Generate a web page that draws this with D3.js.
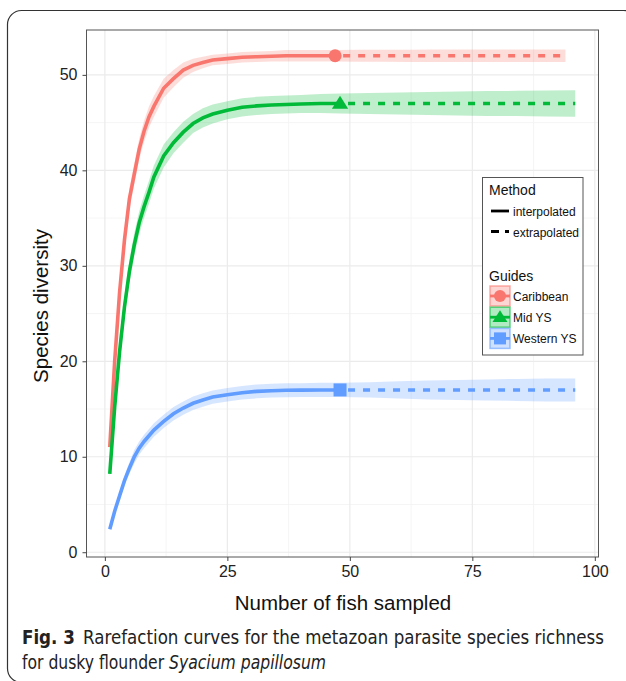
<!DOCTYPE html>
<html>
  <head>
    <meta charset="UTF-8" />
    <title>Rarefaction curves</title>
    <script src="https://d3js.org/d3.v7.min.js"></script>
    <style>
      body { margin: 0; background: #ffffff; }
      svg text { font-family: "Liberation Sans", Arial, sans-serif; }
      .caption { font-family: "DejaVu Sans", sans-serif; font-stretch: condensed; }
    </style>
  </head>
  <body>
    <div id="chart"></div>
    <script>
      // Sample sizes (knots) of the interpolated part
      var mRed = [1,2,3,4,5,6,7,8,9,10,12,14,16,18,20,22,25,28,31,34,37,40,44,47];
      var mGreenBlue = [1,2,3,4,5,6,7,8,9,10,12,14,16,18,20,22,25,28,31,34,37,40,44,48];

      // Caribbean
      var redY  = [11.0,20.0,27.2,32.7,37.0,39.6,42.2,44.1,45.6,46.7,48.6,49.6,50.5,51.0,51.3,51.55,51.7,51.85,51.9,51.95,52.0,52.0,52.0,52.0];
      var redLo = [10.9,19.5,26.4,31.7,35.9,38.5,41.1,43.0,44.5,45.6,47.6,48.7,49.7,50.3,50.7,51.0,51.15,51.3,51.35,51.4,51.4,51.4,51.4,51.4];
      var redHi = [11.1,20.5,28.0,33.7,38.1,40.7,43.3,45.2,46.7,47.8,49.6,50.5,51.3,51.7,51.9,52.1,52.25,52.4,52.45,52.5,52.6,52.6,52.6,52.6];
      var redExtM  = [47,52,57,62,67,72,77,82,87,94];
      var redExtY  = [52,52,52,52,52,52,52,52,52,52];
      var redExtLo = [51.4,51.38,51.37,51.36,51.35,51.35,51.35,51.35,51.35,51.35];
      var redExtHi = [52.6,52.62,52.63,52.64,52.65,52.65,52.65,52.65,52.65,52.65];

      // Mid YS
      var greenY  = [8.2,15.2,21.0,25.7,29.4,32.2,34.5,36.2,37.7,39.3,41.5,42.9,44.0,44.9,45.5,45.9,46.3,46.6,46.75,46.85,46.9,46.95,47.0,47.0];
      var greenLo = [7.9,14.4,19.9,24.5,28.2,31.0,33.3,35.0,36.5,38.1,40.3,41.8,42.9,43.9,44.5,44.9,45.35,45.65,45.8,45.9,45.95,46.0,46.0,45.95];
      var greenHi = [8.5,16.0,22.1,26.9,30.6,33.4,35.7,37.4,38.9,40.5,42.7,44.0,45.1,45.9,46.5,46.9,47.25,47.55,47.7,47.8,47.85,47.9,48.0,48.05];
      var gbExtM    = [48,54,60,66,72,78,84,90,96];
      var greenExtY  = [47,47,47,47,47,47,47,47,47];
      var greenExtLo = [45.95,45.9,45.85,45.8,45.75,45.7,45.68,45.65,45.62];
      var greenExtHi = [48.05,48.1,48.15,48.2,48.25,48.3,48.33,48.36,48.38];

      // Western YS
      var blueY  = [2.4,4.3,5.9,7.5,8.8,10.0,10.9,11.6,12.2,12.8,13.7,14.5,15.1,15.6,15.95,16.25,16.5,16.7,16.85,16.92,16.96,16.98,17.0,17.0];
      var blueLo = [2.3,4.0,5.5,7.0,8.2,9.3,10.2,10.9,11.5,12.1,13.0,13.8,14.4,14.9,15.25,15.55,15.8,16.0,16.12,16.2,16.23,16.25,16.26,16.25];
      var blueHi = [2.5,4.6,6.3,8.0,9.4,10.7,11.6,12.3,12.9,13.5,14.4,15.2,15.8,16.3,16.65,16.95,17.2,17.4,17.58,17.64,17.69,17.71,17.74,17.75];
      var blueExtY  = [17,17,17,17,17,17,17,17,17];
      var blueExtLo = [16.25,16.2,16.1,16.0,15.95,15.9,15.85,15.8,15.8];
      var blueExtHi = [17.75,17.8,17.9,18.0,18.05,18.1,18.15,18.2,18.2];

      var guides = ["Caribbean", "Mid YS", "Western YS"];
      var colors = ["#F8766D", "#00BA38", "#619CFF"];
      var shapes = ["circle", "triangle", "square"];
      var xTicks = [0, 25, 50, 75, 100];
      var yTicks = [0, 10, 20, 30, 40, 50];

      function zip(m, y, lo, hi) {
        return m.map(function (v, i) { return { m: v, y: y[i], lo: lo[i], hi: hi[i] }; });
      }

      var series = [
        { name: guides[0], color: colors[0], shape: shapes[0],
          inter: zip(mRed, redY, redLo, redHi), extra: zip(redExtM, redExtY, redExtLo, redExtHi) },
        { name: guides[1], color: colors[1], shape: shapes[1],
          inter: zip(mGreenBlue, greenY, greenLo, greenHi), extra: zip(gbExtM, greenExtY, greenExtLo, greenExtHi) },
        { name: guides[2], color: colors[2], shape: shapes[2],
          inter: zip(mGreenBlue, blueY, blueLo, blueHi), extra: zip(gbExtM, blueExtY, blueExtLo, blueExtHi) }
      ];

      var W = 626, H = 681;
      var svg = d3.select("#chart").append("svg").attr("width", W).attr("height", H);

      // figure frame (rounded box, cut by the page edge)
      svg.append("rect")
        .attr("x", 7.5).attr("y", 10.5)
        .attr("width", 630).attr("height", 672)
        .attr("rx", 14)
        .attr("fill", "none").attr("stroke", "#333").attr("stroke-width", 1.2);

      // panel
      var pL = 86.5, pR = 598.5, pT = 30, pB = 557;
      var x = d3.scaleLinear().domain([-3.75, 100.75]).range([pL, pR]);
      var y = d3.scaleLinear().domain([-0.5, 54.7]).range([pB, pT]);

      svg.append("rect")
        .attr("x", pL).attr("y", pT).attr("width", pR - pL).attr("height", pB - pT)
        .attr("fill", "#ffffff");

      // grid
      var grid = svg.append("g");
      [12.5, 37.5, 62.5, 87.5].forEach(function (v) {
        grid.append("line").attr("x1", x(v)).attr("x2", x(v)).attr("y1", pT).attr("y2", pB)
          .attr("stroke", "#f3f3f3").attr("stroke-width", 0.8);
      });
      [5, 15, 25, 35, 45].forEach(function (v) {
        grid.append("line").attr("x1", pL).attr("x2", pR).attr("y1", y(v)).attr("y2", y(v))
          .attr("stroke", "#f3f3f3").attr("stroke-width", 0.8);
      });
      xTicks.forEach(function (v) {
        grid.append("line").attr("x1", x(v)).attr("x2", x(v)).attr("y1", pT).attr("y2", pB)
          .attr("stroke", "#ebebeb").attr("stroke-width", 1.2);
      });
      yTicks.forEach(function (v) {
        grid.append("line").attr("x1", pL).attr("x2", pR).attr("y1", y(v)).attr("y2", y(v))
          .attr("stroke", "#ebebeb").attr("stroke-width", 1.2);
      });

      var area = d3.area().x(function (d) { return x(d.m); })
        .y0(function (d) { return y(d.lo); }).y1(function (d) { return y(d.hi); });
      var line = d3.line().x(function (d) { return x(d.m); }).y(function (d) { return y(d.y); });

      // confidence bands
      series.forEach(function (s) {
        svg.append("path").datum(s.inter.concat(s.extra.slice(1)))
          .attr("d", area).attr("fill", s.color).attr("fill-opacity", 0.25);
      });

      // curves
      series.forEach(function (s) {
        svg.append("path").datum(s.inter).attr("d", line)
          .attr("fill", "none").attr("stroke", s.color).attr("stroke-width", 3.6);
        svg.append("path").datum(s.extra).attr("d", line)
          .attr("fill", "none").attr("stroke", s.color).attr("stroke-width", 3.6)
          .attr("stroke-dasharray", "7,8").attr("stroke-dashoffset", -8);
      });

      function drawShape(g, shape, cx, cy, size, color) {
        if (shape === "circle") {
          g.append("circle").attr("cx", cx).attr("cy", cy).attr("r", size * 0.5).attr("fill", color);
        } else if (shape === "triangle") {
          var h = size * 0.95, w = size * 1.25;
          g.append("path")
            .attr("d", "M" + cx + "," + (cy - h * 0.62) + "L" + (cx + w / 2) + "," + (cy + h * 0.42) +
              "L" + (cx - w / 2) + "," + (cy + h * 0.42) + "Z")
            .attr("fill", color);
        } else {
          g.append("rect").attr("x", cx - size / 2).attr("y", cy - size / 2)
            .attr("width", size).attr("height", size).attr("fill", color);
        }
      }

      // observed points
      series.forEach(function (s) {
        var last = s.inter[s.inter.length - 1];
        drawShape(svg, s.shape, x(last.m), y(last.y), 13, s.color);
      });

      // panel border
      svg.append("rect")
        .attr("x", pL).attr("y", pT).attr("width", pR - pL).attr("height", pB - pT)
        .attr("fill", "none").attr("stroke", "#555").attr("stroke-width", 1);

      // axes
      var xAxis = svg.append("g").attr("transform", "translate(0," + pB + ")")
        .call(d3.axisBottom(x).tickValues(xTicks).tickSize(4).tickPadding(5));
      var yAxis = svg.append("g").attr("transform", "translate(" + pL + ",0)")
        .call(d3.axisLeft(y).tickValues(yTicks).tickSize(4).tickPadding(5));
      [xAxis, yAxis].forEach(function (a) {
        a.select(".domain").remove();
        a.selectAll(".tick line").attr("stroke", "#444");
        a.selectAll(".tick text").attr("fill", "#222")
          .style("font-family", "'Liberation Sans', Arial, sans-serif").style("font-size", "16px");
      });

      // axis titles
      svg.append("text").attr("x", 343).attr("y", 610).attr("text-anchor", "middle")
        .style("font-size", "20.5px").attr("fill", "#111").text("Number of fish sampled");
      svg.append("text").attr("transform", "translate(48,306) rotate(-90)").attr("text-anchor", "middle")
        .style("font-size", "20.5px").attr("fill", "#111").text("Species diversity");

      // legend
      var lg = svg.append("g");
      lg.append("rect").attr("x", 482.5).attr("y", 177.5).attr("width", 100.5).attr("height", 177.5)
        .attr("fill", "#fff").attr("stroke", "#555").attr("stroke-width", 1);
      lg.append("text").attr("x", 489).attr("y", 195).style("font-size", "14px").attr("fill", "#111").text("Method");
      lg.append("line").attr("x1", 491).attr("x2", 509).attr("y1", 211).attr("y2", 211)
        .attr("stroke", "#000").attr("stroke-width", 2.8);
      lg.append("text").attr("x", 513).attr("y", 216).style("font-size", "12px").attr("fill", "#111").text("interpolated");
      lg.append("line").attr("x1", 491).attr("x2", 509).attr("y1", 231.5).attr("y2", 231.5)
        .attr("stroke", "#000").attr("stroke-width", 2.8).attr("stroke-dasharray", "8,6");
      lg.append("text").attr("x", 513).attr("y", 236.5).style("font-size", "12px").attr("fill", "#111").text("extrapolated");
      lg.append("text").attr("x", 489).attr("y", 281).style("font-size", "14px").attr("fill", "#111").text("Guides");

      series.forEach(function (s, i) {
        var ky = 286 + i * 21.2;
        lg.append("rect").attr("x", 490).attr("y", ky).attr("width", 20).attr("height", 20)
          .attr("fill", s.color).attr("fill-opacity", 0.3)
          .attr("stroke", s.color).attr("stroke-opacity", 0.6).attr("stroke-width", 1.5);
        lg.append("line").attr("x1", 490).attr("x2", 510).attr("y1", ky + 10).attr("y2", ky + 10)
          .attr("stroke", s.color).attr("stroke-width", 2.8);
        drawShape(lg, s.shape, 500, ky + 10, 12, s.color);
        lg.append("text").attr("x", 513).attr("y", ky + 14.5).style("font-size", "12px")
          .attr("fill", "#111").text(s.name);
      });

      // caption
      var c1 = svg.append("text").attr("class", "caption").attr("x", 22).attr("y", 644)
        .attr("textLength", 582).attr("lengthAdjust", "spacingAndGlyphs")
        .style("font-size", "19px").attr("fill", "#222");
      c1.append("tspan").style("font-weight", "bold").text("Fig. 3");
      c1.append("tspan").text("\u2002Rarefaction curves for the metazoan parasite species richness");
      var c2 = svg.append("text").attr("class", "caption").attr("x", 22).attr("y", 669)
        .attr("textLength", 304).attr("lengthAdjust", "spacingAndGlyphs")
        .style("font-size", "19px").attr("fill", "#222");
      c2.append("tspan").text("for dusky flounder ");
      c2.append("tspan").style("font-style", "italic").text("Syacium papillosum");
    </script>
  </body>
</html>
